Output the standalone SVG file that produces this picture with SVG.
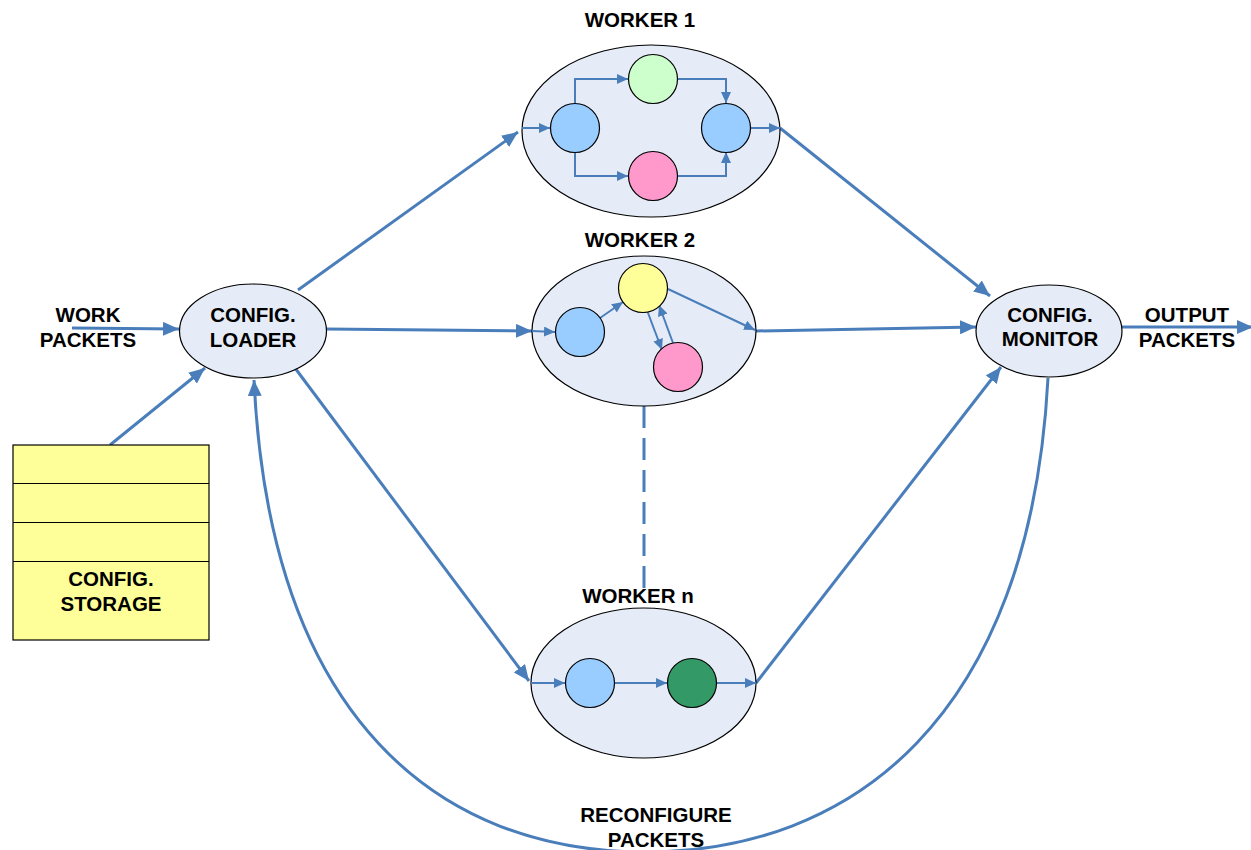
<svg xmlns="http://www.w3.org/2000/svg" width="1251" height="850" viewBox="0 0 1251 850">
  <defs>
    <marker id="arrow" markerUnits="userSpaceOnUse" markerWidth="18" markerHeight="14" refX="16" refY="7" orient="auto">
      <path d="M0,0 L16,7 L0,14 z" fill="#4a7ebb"/>
    </marker>
    <marker id="arrowSmall" markerUnits="userSpaceOnUse" markerWidth="12" markerHeight="10" refX="11" refY="5" orient="auto">
      <path d="M0,0 L11,5 L0,10 z" fill="#4a7ebb"/>
    </marker>
  </defs>
  <style>
    .label { font-family: "Liberation Sans", Arial, sans-serif; font-weight: bold; font-size: 20.5px; fill: #000; text-anchor: middle; }
    .shell { fill: #e6ecf7; stroke: #000; stroke-width: 1.2; }
    .unit { stroke: #000; stroke-width: 1.2; }
    .blue { fill: #99ccff; }
    .green { fill: #ccffcc; }
    .pink { fill: #ff99cc; }
    .yellow { fill: #ffff99; }
    .dark { fill: #339966; }
    .link { fill: none; stroke: #4a7ebb; stroke-width: 3; marker-end: url(#arrow); }
    .inner { fill: none; stroke: #4a7ebb; stroke-width: 2; marker-end: url(#arrowSmall); }
    .store { fill: #ffff99; stroke: #000; stroke-width: 1.2; }
  </style>

  <rect width="1251" height="850" fill="#ffffff"/>

  <!-- connectors between the main blocks -->
  <g id="connectors">
    <path class="link" d="M72,328 L179,329"/>
    <path class="link" d="M110,445 L205,368"/>
    <path class="link" d="M298,290 L518,132"/>
    <path class="link" d="M326,329 L532,331"/>
    <path class="link" d="M295,368 L529,681"/>
    <path class="link" d="M780,128 L990,296"/>
    <path class="link" d="M756,331 L976,327"/>
    <path class="link" d="M756,683 L1001,367"/>
    <path class="link" d="M1122,327 L1253,327"/>
    <path class="link" d="M1048,378 C1030,720 850,852 645,852 C440,852 270,720 254,380"/>
    <path d="M644,406 L644,592 M644,609 L644,622" fill="none" stroke="#4a7ebb" stroke-width="3" stroke-dasharray="22 10"/>
  </g>

  <!-- configuration storage -->
  <g id="config-storage">
    <rect class="store" x="13" y="445" width="196" height="195"/>
    <line x1="13" y1="483.5" x2="209" y2="483.5" stroke="#000" stroke-width="1.2"/>
    <line x1="13" y1="522.5" x2="209" y2="522.5" stroke="#000" stroke-width="1.2"/>
    <line x1="13" y1="561.5" x2="209" y2="561.5" stroke="#000" stroke-width="1.2"/>
    <text class="label" x="111" y="586">CONFIG.</text>
    <text class="label" x="111" y="611">STORAGE</text>
  </g>

  <!-- input label -->
  <g id="work-packets">
    <text class="label" x="88" y="322">WORK</text>
    <text class="label" x="88" y="347">PACKETS</text>
  </g>

  <!-- loader -->
  <g id="config-loader">
    <ellipse class="shell" cx="253" cy="331" rx="73.5" ry="47"/>
    <text class="label" x="253" y="322">CONFIG.</text>
    <text class="label" x="253" y="347">LOADER</text>
  </g>

  <!-- worker 1: split / join -->
  <g id="worker-1">
    <text class="label" x="640" y="27">WORKER 1</text>
    <ellipse class="shell" cx="651" cy="131" rx="129" ry="86"/>
    <path class="inner" d="M522,128 L550,128"/>
    <path class="inner" d="M575,103 L575,79 L628,79"/>
    <path class="inner" d="M575,152 L575,176 L628,176"/>
    <path class="inner" d="M678,79 L726,79 L726,103"/>
    <path class="inner" d="M678,176 L726,176 L726,152"/>
    <path class="inner" d="M751,128 L780,128"/>
    <circle class="unit blue" cx="575" cy="128" r="24.5"/>
    <circle class="unit green" cx="653" cy="79" r="24.5"/>
    <circle class="unit pink" cx="653" cy="176" r="24.5"/>
    <circle class="unit blue" cx="726" cy="128" r="24.5"/>
  </g>

  <!-- worker 2: feedback pair -->
  <g id="worker-2">
    <text class="label" x="640" y="247">WORKER 2</text>
    <ellipse class="shell" cx="644" cy="331" rx="112" ry="75"/>
    <path class="inner" d="M532,331 L555,332"/>
    <path class="inner" d="M600,318 L623,302"/>
    <path class="inner" d="M648,313 L662,350"/>
    <path class="inner" d="M673,343 L659,305"/>
    <path class="inner" d="M668,289 L755,330"/>
    <circle class="unit blue" cx="580" cy="332" r="24.5"/>
    <circle class="unit yellow" cx="643" cy="288" r="24.5"/>
    <circle class="unit pink" cx="678" cy="367" r="24.5"/>
  </g>

  <!-- worker n: chain -->
  <g id="worker-n">
    <text class="label" x="638" y="603">WORKER n</text>
    <ellipse class="shell" cx="643.5" cy="683" rx="112.5" ry="75"/>
    <path class="inner" d="M531,683 L565,683"/>
    <path class="inner" d="M614,683 L667,683"/>
    <path class="inner" d="M717,683 L756,683"/>
    <circle class="unit blue" cx="590" cy="683" r="24.5"/>
    <circle class="unit dark" cx="692" cy="683" r="24.5"/>
  </g>

  <!-- monitor -->
  <g id="config-monitor">
    <ellipse class="shell" cx="1049" cy="331" rx="73" ry="46"/>
    <text class="label" x="1050" y="322">CONFIG.</text>
    <text class="label" x="1050" y="346">MONITOR</text>
  </g>

  <!-- output label -->
  <g id="output-packets">
    <text class="label" x="1187" y="322">OUTPUT</text>
    <text class="label" x="1187" y="347">PACKETS</text>
  </g>

  <!-- feedback label -->
  <g id="reconfigure-packets">
    <text class="label" x="656" y="822">RECONFIGURE</text>
    <text class="label" x="656" y="847">PACKETS</text>
  </g>
</svg>
